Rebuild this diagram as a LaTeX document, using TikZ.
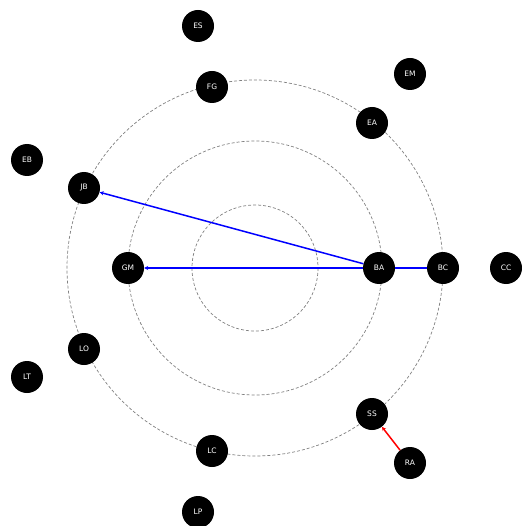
\documentclass[tikz,border=0pt]{standalone}
\usepackage{fontspec}
\setsansfont{DejaVu Sans}
\usepackage{tikz}
\usetikzlibrary{arrows.meta}

\begin{document}
\begin{tikzpicture}[x=1pt,y=-1pt,
  vert/.style={circle,fill=black,minimum size=32pt,inner sep=0pt,text=white,font=\sffamily\fontsize{7.5}{8}\selectfont},
  ring/.style={gray,line width=0.7pt,dash pattern=on 3pt off 2pt},
  blueedge/.style={blue,line width=1.5pt},
  rededge/.style={red,line width=1.5pt}]
\useasboundingbox (0,0) rectangle (521,526);
\draw[ring] (255,268) circle (63);
\draw[ring] (255,268) circle (127);
\draw[ring] (255,268) circle (188);
\node[vert] (ES) at (198,26) {ES};
\node[vert] (FG) at (212,87) {FG};
\node[vert] (EM) at (410,74) {EM};
\node[vert] (EA) at (372,123) {EA};
\node[vert] (EB) at (27,160) {EB};
\node[vert] (JB) at (84,188) {JB};
\node[vert] (GM) at (128,268) {GM};
\node[vert] (BA) at (379,268) {BA};
\node[vert] (BC) at (443,268) {BC};
\node[vert] (CC) at (506,268) {CC};
\node[vert] (LO) at (84,349) {LO};
\node[vert] (LT) at (27,377) {LT};
\node[vert] (SS) at (372,414) {SS};
\node[vert] (RA) at (410,463) {RA};
\node[vert] (LC) at (212,451) {LC};
\node[vert] (LP) at (198,512) {LP};
\draw[blueedge,-{Stealth[length=4pt,width=4pt]}] (BA) -- (JB);
\draw[blueedge,-{Stealth[length=4pt,width=4pt]}] (BA) -- (GM);
\draw[blueedge] (BA) -- (BC);
\draw[rededge,-{Stealth[length=4pt,width=4pt]}] (RA) -- (SS);
\end{tikzpicture}
\end{document}
